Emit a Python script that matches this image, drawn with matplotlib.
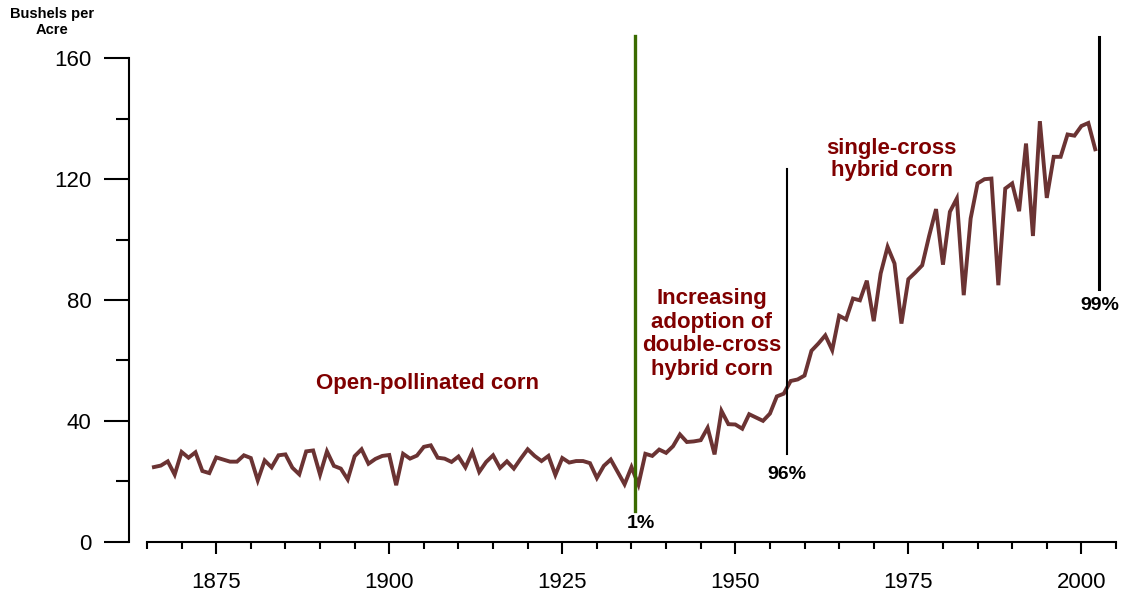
import matplotlib
matplotlib.use("Agg")
import matplotlib.pyplot as plt
from matplotlib.ticker import MultipleLocator

# Prinos kukuruza (bushels per acre), godine 1866-2002
years = list(range(1866, 2003))
yields = [
    24.7, 25.2, 26.6, 22.2,                                        # 1866-1869
    29.7, 27.8, 29.6, 23.4, 22.7, 27.9, 27.2, 26.5, 26.5, 28.6,    # 1870-1879
    27.7, 20.3, 26.9, 24.6, 28.6, 28.9, 24.5, 22.3, 29.9, 30.2,    # 1880-1889
    22.2, 29.9, 25.1, 24.2, 20.6, 28.3, 30.6, 25.8, 27.4, 28.4,    # 1890-1899
    28.7, 18.7, 29.1, 27.5, 28.5, 31.4, 31.9, 27.8, 27.5, 26.4,    # 1900-1909
    28.2, 24.6, 29.7, 23.1, 26.4, 28.6, 24.4, 26.6, 24.2, 27.5,    # 1910-1919
    30.6, 28.4, 26.7, 28.4, 22.1, 27.7, 26.2, 26.7, 26.7, 26.0,    # 1920-1929
    21.1, 25.1, 27.2, 23.1, 19.0, 24.7, 18.9, 29.1, 28.4, 30.5,    # 1930-1939
    29.4, 31.6, 35.5, 33.0, 33.2, 33.6, 37.7, 28.9, 43.3, 38.9,    # 1940-1949
    38.8, 37.4, 42.2, 41.1, 40.0, 42.4, 48.1, 49.0, 53.2, 53.7,    # 1950-1959
    55.0, 63.2, 65.6, 68.3, 63.4, 74.8, 73.6, 80.5, 79.9, 86.4,    # 1960-1969
    73.0, 88.8, 97.6, 92.1, 72.2, 86.9, 89.1, 91.5, 101.2, 110.1,  # 1970-1979
    91.7, 109.2, 113.6, 81.6, 107.0, 118.6, 120.0, 120.2, 84.9, 116.9,  # 1980-1989
    118.6, 109.4, 131.8, 101.2, 139.2, 113.8, 127.4, 127.4, 134.8, 134.4,  # 1990-1999
    137.6, 138.6, 129.9,                                           # 2000-2002
]

# Vertikalne linije: udeo hibridnog kukuruza
marker_years = [1935.5, 1957.4, 2002.5]
marker_pcts = ["1%", "96%", "99%"]

# Natpisi perioda
period_labels = ["Open-pollinated corn",
                 "Increasing\nadoption of\ndouble-cross\nhybrid corn",
                 "single-cross\nhybrid corn"]

plt.rcParams['font.family'] = ['Liberation Sans', 'DejaVu Sans']

W, H = 1128, 596
fig = plt.figure(figsize=(W / 100, H / 100), dpi=100)

px = 3.021          # piksela po jedinici y ose
y_top = 168
left, right = 147, 1116
bottom = 541.7
ax = fig.add_axes([left / W, (H - bottom) / H, (right - left) / W, y_top * px / H])

line_col = '#6b3333'
red = '#800000'

ax.plot(years, yields, color=line_col, lw=2.8, solid_joinstyle='miter', zorder=3)

ax.set_xlim(1865, 2005)
ax.set_ylim(0, y_top)

# Ose
for s in ['top', 'right']:
    ax.spines[s].set_visible(False)
ax.spines['left'].set_position(('outward', 13))
ax.spines['left'].set_bounds(0, 160)
ax.spines['left'].set_linewidth(1.5)
ax.spines['bottom'].set_linewidth(1.5)

ax.xaxis.set_minor_locator(MultipleLocator(5))
ax.yaxis.set_minor_locator(MultipleLocator(20))
ax.set_xticks([1875, 1900, 1925, 1950, 1975, 2000])
ax.set_yticks([0, 40, 80, 120, 160])

ax.tick_params(axis='x', which='major', direction='out', length=8.6, width=1.5,
               labelsize=16, pad=13)
ax.tick_params(axis='x', which='minor', direction='out', length=5, width=1.5)
ax.tick_params(axis='y', which='major', direction='out', length=18, width=1.5,
               labelsize=16, pad=9)
ax.tick_params(axis='y', which='minor', direction='out', length=9.4, width=1.5)

# Vertikalne linije
ax.plot([marker_years[0]] * 2, [10.3, 167.3], color='#3a6b00', lw=2.4,
        zorder=4, clip_on=False)
ax.plot([marker_years[1]] * 2, [29.1, 123.5], color='black', lw=1.5,
        zorder=4, clip_on=False)
ax.plot([marker_years[2]] * 2, [83.8, 167.0], color='black', lw=2.2,
        zorder=4, clip_on=False)

ax.text(1936.3, 6.0, marker_pcts[0], ha='center', va='center',
        fontsize=14, fontweight='bold', clip_on=False)
ax.text(1957.5, 22.3, marker_pcts[1], ha='center', va='center',
        fontsize=14, fontweight='bold')
ax.text(2002.6, 78.2, marker_pcts[2], ha='center', va='center',
        fontsize=14, fontweight='bold', clip_on=False)

# Natpisi perioda
ax.text(1905.5, 52.3, period_labels[0], ha='center', va='center',
        fontsize=16, fontweight='bold', color=red)
ax.text(1946.6, 68.8, period_labels[1], ha='center', va='center',
        fontsize=16, fontweight='bold', color=red, linespacing=1.16)
ax.text(1972.6, 126.4, period_labels[2], ha='center', va='center',
        fontsize=16, fontweight='bold', color=red, linespacing=1.08)

# Oznaka y ose
fig.text(52 / W, 1 - 22 / H, "Bushels per\nAcre", ha='center', va='center',
         fontsize=10.5, fontweight='bold', linespacing=1.25)

fig.savefig("out.png", dpi=100)
